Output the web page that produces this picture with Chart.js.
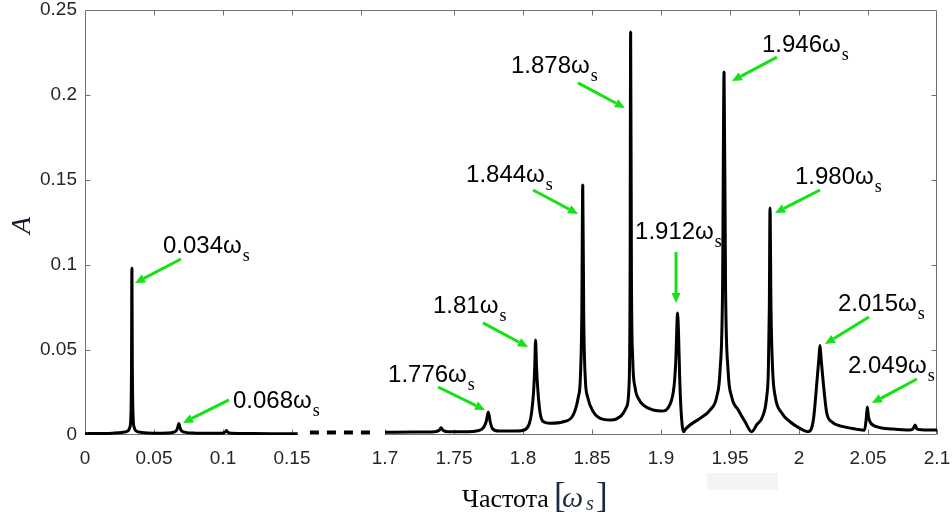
<!DOCTYPE html>
<html>
<head>
<meta charset="utf-8">
<script src="https://cdn.jsdelivr.net/npm/chart.js@4.4.0/dist/chart.umd.min.js"></script>
<style>
  html, body { margin: 0; padding: 0; background: #ffffff; }
  #wrap { width: 952px; height: 515px; }
</style>
</head>
<body>
<div id="wrap"><canvas id="spectrum" width="952" height="515"></canvas></div>
<script>
// Amplitude spectrum, frequency in units of omega_s
// Low band 0 .. 0.155
const freqLow = [0, 0.01, 0.02, 0.027, 0.031, 0.0325, 0.0333, 0.0337, 0.034, 0.0343, 0.0348, 0.0356,
  0.037, 0.041, 0.05, 0.06, 0.064, 0.0665, 0.0673, 0.068, 0.0687, 0.0695, 0.072, 0.08, 0.095,
  0.1005, 0.1018, 0.1025, 0.1032, 0.1045, 0.115, 0.135, 0.1541];
const ampLow = [0.0008, 0.0009, 0.0011, 0.0015, 0.0024, 0.0045, 0.012, 0.04, 0.0982, 0.04, 0.012, 0.0045,
  0.0024, 0.0015, 0.0011, 0.0012, 0.0016, 0.003, 0.0048, 0.0068, 0.0048, 0.003, 0.0017, 0.0011, 0.001,
  0.0012, 0.0019, 0.0026, 0.0019, 0.0012, 0.0009, 0.0008, 0.0008];

// High band 1.7 .. 2.1
const freqHigh = [1.7, 1.72, 1.736, 1.7393, 1.7406, 1.742, 1.746, 1.76, 1.767, 1.7712, 1.7733, 1.7749,
  1.7762, 1.778, 1.7825, 1.795, 1.8015, 1.8045, 1.8062, 1.8077, 1.8085, 1.8091, 1.8098, 1.8108, 1.8124,
  1.8148, 1.8196, 1.8292, 1.8364, 1.8401, 1.8415, 1.8426, 1.8433, 1.844, 1.8452, 1.8468, 1.8509, 1.8582,
  1.8643, 1.8703, 1.8751, 1.877, 1.8776, 1.878, 1.8786, 1.8795, 1.8812, 1.8836, 1.8872, 1.8944, 1.9005,
  1.9065, 1.9095, 1.9108, 1.9115, 1.912, 1.9127, 1.9135, 1.9145, 1.9163, 1.9178, 1.921, 1.9283, 1.9355,
  1.9404, 1.9428, 1.9446, 1.9457, 1.9468, 1.9486, 1.9512, 1.956, 1.9609, 1.9657, 1.9693, 1.9741, 1.9766,
  1.9778, 1.9785, 1.979, 1.9797, 1.9809, 1.9828, 1.9875, 1.9935, 2.0007, 2.0067, 2.0104, 2.0131, 2.0145,
  2.0152, 2.0159, 2.0174, 2.0201, 2.0237, 2.0321, 2.0418, 2.0475, 2.0487, 2.0495, 2.0503, 2.0514, 2.0563,
  2.0683, 2.0804, 2.0828, 2.0841, 2.0853, 2.0866, 2.1];
const ampHigh = [0.0016, 0.0017, 0.0019, 0.0028, 0.0042, 0.0028, 0.0019, 0.0019, 0.0025, 0.0042, 0.0078, 0.0135,
  0.0078, 0.0036, 0.0023, 0.0023, 0.0032, 0.0065, 0.013, 0.026, 0.04, 0.0559, 0.04, 0.026, 0.013,
  0.0078, 0.0069, 0.0078, 0.0118, 0.0225, 0.0324, 0.07, 0.147, 0.07, 0.0324, 0.0225, 0.0137, 0.0092,
  0.0088, 0.0107, 0.0166, 0.0324, 0.09, 0.237, 0.09, 0.045, 0.028, 0.0215, 0.0176, 0.0147, 0.0141,
  0.018, 0.029, 0.045, 0.064, 0.0718, 0.06, 0.035, 0.015, 0.0019, 0.0035, 0.0059, 0.0098, 0.0147,
  0.0225, 0.0382, 0.085, 0.2135, 0.085, 0.0382, 0.0225, 0.0147, 0.0078, 0.0019, 0.0059, 0.0118, 0.0225,
  0.0382, 0.075, 0.1335, 0.075, 0.0382, 0.0225, 0.0129, 0.0078, 0.0039, 0.0019, 0.0088, 0.0324, 0.046,
  0.0526, 0.046, 0.0324, 0.0129, 0.0078, 0.0049, 0.0034, 0.0028, 0.0095, 0.0165, 0.011, 0.0078, 0.0049,
  0.0035, 0.0029, 0.0038, 0.0059, 0.0038, 0.0033, 0.0029];

// Dotted axis break between the bands
const breakFreq = [0.163, 0.2065];
const breakAmp = [0.0014, 0.0014];

const yTicks = [0, 0.05, 0.1, 0.15, 0.2, 0.25];
const xTicksLow = [0, 0.05, 0.1, 0.15];
const xTicksHigh = [1.7, 1.75, 1.8, 1.85, 1.9, 1.95, 2, 2.05, 2.1];
const topTicksLow = [0.05, 0.1, 0.15, 0.2];
const topTicksHigh = [1.75, 1.8, 1.85, 1.9, 1.95, 2, 2.05];

// Peak callouts: arrow tip in data units, tail and text offsets in px from the tip
const peakLabels = [
  { text: '0.034', axis: 'x1', f: 0.0362, a: 0.0894, tail: [46, -24], label: [28, -30] },
  { text: '0.068', axis: 'x1', f: 0.0710, a: 0.0071, tail: [46, -23], label: [50, -15] },
  { text: '1.776', axis: 'x2', f: 1.7725, a: 0.0147, tail: [-47, -23], label: [-97, -28] },
  { text: '1.81', axis: 'x2', f: 1.8036, a: 0.0518, tail: [-45, -24], label: [-95, -34] },
  { text: '1.844', axis: 'x2', f: 1.8399, a: 0.13, tail: [-45, -24], label: [-112, -32] },
  { text: '1.878', axis: 'x2', f: 1.8739, a: 0.1924, tail: [-47, -25], label: [-114, -35] },
  { text: '1.912', axis: 'x2', f: 1.9109, a: 0.0776, tail: [0, -51], label: [-41, -64] },
  { text: '1.946', axis: 'x2', f: 1.9514, a: 0.2082, tail: [45, -24], label: [30, -29] },
  { text: '1.980', axis: 'x2', f: 1.9826, a: 0.1306, tail: [45, -23], label: [20, -29] },
  { text: '2.015', axis: 'x2', f: 2.0188, a: 0.0535, tail: [44, -27], label: [13, -33] },
  { text: '2.049', axis: 'x2', f: 2.0529, a: 0.0188, tail: [45, -24], label: [-24, -30] }
];

const toPoints = (xs, ys) => xs.map((x, i) => ({ x: x, y: ys[i] }));
const setTicks = (values) => (scale) => { scale.ticks = values.map(v => ({ value: v })); };

// fixed box sizes, and no extra room for overhanging end labels
const fitBottom = (s) => {
  s.height = 80;
  s.paddingLeft = 0; s.paddingRight = 0; s.paddingTop = 0; s.paddingBottom = 0;
};
const fitLeft = (s) => {
  s.width = 85;
  s.paddingLeft = 0; s.paddingRight = 0; s.paddingTop = 0; s.paddingBottom = 0;
};

const axisColor = '#707070';
const labelColor = '#262626';
const arrowColor = '#14e214';

// Box, break-aware bottom line and inward tick marks
const framePlugin = {
  id: 'frame',
  beforeDraw(chart) {
    const { ctx, chartArea: a } = chart;
    // faint strip under the tick labels
    ctx.save();
    ctx.fillStyle = '#f4f4f4';
    ctx.fillRect(a.left + 622, a.bottom + 38, 71, 17);
    ctx.restore();
  },
  beforeDatasetsDraw(chart) {
    const { ctx, chartArea: a, scales } = chart;
    const { x1, x2, y } = scales;
    const px = v => Math.round(v) + 0.5;
    const top = px(a.top), bottom = px(a.bottom - 1);
    const left = px(a.left), right = px(a.right - 1);
    const tick = 5;
    ctx.save();
    ctx.strokeStyle = axisColor;
    ctx.lineWidth = 1;
    ctx.beginPath();
    ctx.moveTo(left, bottom);
    ctx.lineTo(left, top);
    ctx.lineTo(right, top);
    ctx.lineTo(right, bottom);
    ctx.moveTo(left, bottom);
    ctx.lineTo(x1.getPixelForValue(freqLow[freqLow.length - 1]), bottom);
    ctx.moveTo(x2.getPixelForValue(xTicksHigh[0]), bottom);
    ctx.lineTo(right, bottom);
    xTicksLow.forEach(v => { const x = px(x1.getPixelForValue(v)); ctx.moveTo(x, bottom); ctx.lineTo(x, bottom - tick); });
    xTicksHigh.forEach(v => { const x = px(x2.getPixelForValue(v)); ctx.moveTo(x, bottom); ctx.lineTo(x, bottom - tick); });
    topTicksLow.forEach(v => { const x = px(x1.getPixelForValue(v)); ctx.moveTo(x, top); ctx.lineTo(x, top + tick); });
    topTicksHigh.forEach(v => { const x = px(x2.getPixelForValue(v)); ctx.moveTo(x, top); ctx.lineTo(x, top + tick); });
    yTicks.slice(1, -1).forEach(v => {
      const yy = px(y.getPixelForValue(v));
      ctx.moveTo(left, yy); ctx.lineTo(left + tick, yy);
      ctx.moveTo(right, yy); ctx.lineTo(right - tick, yy);
    });
    ctx.stroke();
    ctx.restore();
  }
};

// Green arrows with "value ω_s" captions
const calloutPlugin = {
  id: 'callouts',
  afterDatasetsDraw(chart) {
    const { ctx, scales } = chart;
    ctx.save();
    peakLabels.forEach(p => {
      const tx = scales[p.axis].getPixelForValue(p.f);
      const ty = scales.y.getPixelForValue(p.a);
      const sx = tx + p.tail[0], sy = ty + p.tail[1];
      const ang = Math.atan2(ty - sy, tx - sx);
      const head = 10, half = 4.5;
      const bx = tx - head * Math.cos(ang), by = ty - head * Math.sin(ang);
      ctx.strokeStyle = arrowColor;
      ctx.fillStyle = arrowColor;
      ctx.lineWidth = 3;
      ctx.lineCap = 'butt';
      ctx.beginPath();
      ctx.moveTo(sx, sy);
      ctx.lineTo(bx, by);
      ctx.stroke();
      ctx.beginPath();
      ctx.moveTo(tx, ty);
      ctx.lineTo(bx + half * Math.sin(ang), by - half * Math.cos(ang));
      ctx.lineTo(bx - half * Math.sin(ang), by + half * Math.cos(ang));
      ctx.closePath();
      ctx.fill();

      const lx = tx + p.label[0], ly = ty + p.label[1];
      const main = p.text + 'ω';
      ctx.fillStyle = '#000000';
      ctx.textAlign = 'left';
      ctx.textBaseline = 'alphabetic';
      ctx.font = '24px "Liberation Sans"';
      ctx.fillText(main, lx, ly);
      const w = ctx.measureText(main).width;
      ctx.font = '18px "Liberation Serif"';
      ctx.fillText('s', lx + w + 1, ly + 8);
    });
    ctx.restore();
  }
};

// Axis titles: A (rotated) and "Частота [ω_s]"
const titlePlugin = {
  id: 'titles',
  afterDraw(chart) {
    const { ctx, chartArea: a } = chart;
    ctx.save();
    ctx.fillStyle = '#141c2c';
    ctx.textBaseline = 'alphabetic';
    ctx.translate(30, (a.top + a.bottom) / 2 + 3);
    ctx.rotate(-Math.PI / 2);
    ctx.textAlign = 'center';
    ctx.font = 'italic 28px "Liberation Serif"';
    ctx.fillText('A', 0, 0);
    ctx.restore();

    ctx.save();
    ctx.textAlign = 'left';
    ctx.textBaseline = 'alphabetic';
    const x0 = a.left + 377, base = a.bottom + 72;
    ctx.fillStyle = '#000000';
    ctx.font = '26px "Liberation Serif"';
    ctx.fillText('Частота', x0, base);
    ctx.fillStyle = '#1c2a44';
    ctx.font = '35px "Liberation Serif"';
    ctx.fillText('[', x0 + 92, base);
    ctx.font = 'italic 30px "Liberation Serif"';
    ctx.fillText('ω', x0 + 100, base);
    ctx.font = 'italic 20px "Liberation Serif"';
    ctx.fillText('s', x0 + 124, base + 3);
    ctx.font = '35px "Liberation Serif"';
    ctx.fillText(']', x0 + 134, base);
    ctx.restore();
  }
};

const tickFont = { family: '"Liberation Sans", Arial, sans-serif', size: 19, lineHeight: 1 };

new Chart(document.getElementById('spectrum'), {
  type: 'line',
  data: {
    datasets: [
      {
        data: toPoints(freqLow, ampLow),
        xAxisID: 'x1', yAxisID: 'y',
        borderColor: '#000000', borderWidth: 3, borderJoinStyle: 'bevel',
        cubicInterpolationMode: 'monotone', pointRadius: 0, fill: false
      },
      {
        data: toPoints(breakFreq, breakAmp),
        xAxisID: 'x1', yAxisID: 'y',
        borderColor: '#000000', borderWidth: 4, borderDash: [9, 8],
        pointRadius: 0, fill: false
      },
      {
        data: toPoints(freqHigh, ampHigh),
        xAxisID: 'x2', yAxisID: 'y',
        borderColor: '#000000', borderWidth: 3, borderJoinStyle: 'bevel',
        cubicInterpolationMode: 'monotone', pointRadius: 0, fill: false
      }
    ]
  },
  options: {
    responsive: false,
    animation: false,
    layout: { padding: { top: 10, right: 15, left: 0, bottom: 0 } },
    plugins: {
      legend: { display: false },
      tooltip: { enabled: false }
    },
    scales: {
      x1: {
        type: 'linear', position: 'bottom', stack: 'freq', stackWeight: 300,
        min: 0, max: 300 / 1380,
        afterBuildTicks: setTicks(xTicksLow),
        afterFit: fitBottom,
        grid: { display: false, drawTicks: false },
        border: { display: false },
        ticks: { color: labelColor, font: tickFont, padding: 14, autoSkip: false, maxRotation: 0, callback: v => String(v) }
      },
      x2: {
        type: 'linear', position: 'bottom', stack: 'freq', stackWeight: 552,
        min: 1.7, max: 2.1,
        afterBuildTicks: setTicks(xTicksHigh),
        afterFit: fitBottom,
        grid: { display: false, drawTicks: false },
        border: { display: false },
        ticks: { color: labelColor, font: tickFont, padding: 14, autoSkip: false, maxRotation: 0, callback: v => String(v) }
      },
      y: {
        type: 'linear', position: 'left',
        min: 0, max: 0.25,
        afterBuildTicks: setTicks(yTicks),
        afterFit: fitLeft,
        grid: { display: false, drawTicks: false },
        border: { display: false },
        ticks: { color: labelColor, font: tickFont, padding: 8, callback: v => String(v) }
      }
    }
  },
  plugins: [framePlugin, calloutPlugin, titlePlugin]
});
</script>
</body>
</html>
